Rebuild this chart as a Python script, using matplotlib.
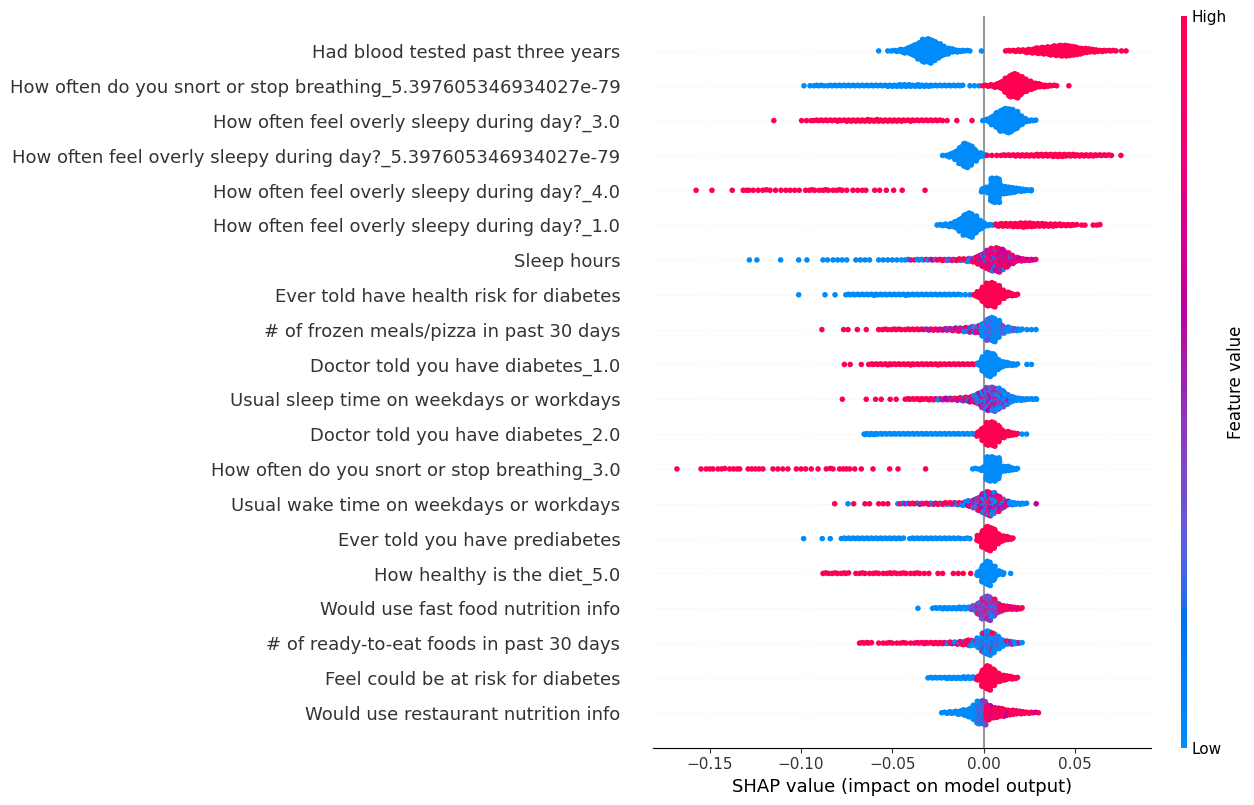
import numpy as np
import matplotlib
matplotlib.use("Agg")
import matplotlib.pyplot as plt
import matplotlib.cm as cm
from matplotlib.colors import LinearSegmentedColormap

# feature values: 0 = low (blue), 1 = high (red); a tuple is a mix used along a run
LO, HI = 0.0, 1.0
STEP = 0.0025   # grid of the runs below (shap value units)

features = [
    "Had blood tested past three years",
    "How often do you snort or stop breathing_5.397605346934027e-79",
    "How often feel overly sleepy during day?_3.0",
    "How often feel overly sleepy during day?_5.397605346934027e-79",
    "How often feel overly sleepy during day?_4.0",
    "How often feel overly sleepy during day?_1.0",
    "Sleep hours",
    "Ever told have health risk for diabetes",
    "# of frozen meals/pizza in past 30 days",
    "Doctor told you have diabetes_1.0",
    "Usual sleep time on weekdays or workdays",
    "Doctor told you have diabetes_2.0",
    "How often do you snort or stop breathing_3.0",
    "Usual wake time on weekdays or workdays",
    "Ever told you have prediabetes",
    "How healthy is the diet_5.0",
    "Would use fast food nutrition info",
    "# of ready-to-eat foods in past 30 days",
    "Feel could be at risk for diabetes",
    "Would use restaurant nutrition info",
]

# (value, start, counts per grid step) or (value, x) for a single dot
blood_tested = [
    (LO, -0.0575, [1, 0, 1]),
    (LO, -0.050, [2, 3, 6, 10, 16, 24, 34, 46, 49, 40, 30, 20, 13, 8, 5, 3, 2, 1]),
    (LO, -0.0012),
    (HI, 0.0125, [2, 2, 3, 4, 5, 7, 9, 12, 14, 16, 18, 20, 22, 22, 20, 17, 13, 10, 8, 6, 4, 3, 2, 2, 1]),
    (HI, 0.0755), (HI, 0.078),
]
snort_5e79 = [
    (LO, -0.0984), (LO, -0.0951),
    (LO, -0.0925, [2, 2, 1, 2, 2, 2, 2, 2, 2, 2, 2, 2, 2, 2, 2, 2, 3,
                   3, 3, 4, 4, 4, 3, 4, 3, 3, 2, 2, 2, 2, 2, 2, 2]),
    (LO, -0.0075, [1, 1, 1]),
    (HI, 0.000, [2, 3, 4, 8, 16, 30, 45, 49, 38, 26, 18, 12, 8, 5, 3, 2, 1]),
    (HI, 0.0467),
]
sleepy_3 = [
    (HI, -0.1149), (HI, -0.0997), (HI, -0.0970), (HI, -0.0945),
    (HI, -0.0925, [2, 2, 2, 2, 2, 3, 2, 3, 3, 3, 3, 3, 4, 3, 4,
                   3, 3, 3, 3, 3, 2, 3, 2, 2, 2, 2, 2, 2, 1, 1]),
    (HI, -0.0147), (HI, -0.0064),
    (LO, 0.000, [2, 6, 18, 32, 44, 49, 46, 36, 20, 8, 3, 2]),
]
sleepy_5e79 = [
    (LO, -0.0225, [1, 3, 8, 18, 34, 49, 40, 24, 10, 4]),
    (HI, 0.0020), (HI, 0.0045), (HI, 0.0072),
    (HI, 0.010, [2, 2, 2, 3, 3, 3, 3, 3, 4, 4, 4, 5, 5, 5, 4, 4, 4, 3, 3, 3, 3, 2, 2, 2, 1]),
    (HI, 0.0752),
]
sleepy_4 = [
    (HI, -0.1575), (HI, -0.1488), (HI, -0.1377), (HI, -0.1317), (HI, -0.1300),
    (HI, -0.1285), (HI, -0.1262), (HI, -0.1235), (HI, -0.1210), (HI, -0.1190),
    (HI, -0.1170), (HI, -0.1140), (HI, -0.1110), (HI, -0.1084), (HI, -0.1060),
    (HI, -0.1035), (HI, -0.1010),
    (HI, -0.0975, [1, 2, 1, 1, 2, 1, 1, 2, 1, 1]),
    (HI, -0.0716), (HI, -0.0690), (HI, -0.0665), (HI, -0.0645), (HI, -0.0597),
    (HI, -0.0570), (HI, -0.0533), (HI, -0.0493), (HI, -0.0446), (HI, -0.0321),
    (LO, 0.000, [8, 12, 49, 49, 16, 14, 12, 9, 6, 4, 2]),
    (LO, 0.0262),
]
sleepy_1 = [
    (LO, -0.025, [2, 3, 4, 7, 14, 26, 42, 49, 36, 20, 8, 3, 1]),
    (HI, 0.0075, [5, 6, 6, 6, 7, 8, 9, 8, 7, 6, 6, 5, 5, 4, 4, 3, 3, 2]),
    (HI, 0.0537), (HI, 0.0555), (HI, 0.0600), (HI, 0.0620), (HI, 0.0637),
]
sleep_hours = [
    (LO, -0.1283), (LO, -0.1242), (LO, -0.1112), (LO, -0.1013), (LO, -0.0968),
    (LO, -0.0880), (LO, -0.0855),
    (LO, -0.0825, [1, 1, 1, 1, 0, 1, 1, 1, 1, 0, 1, 1, 1, 1]),
    ((0.0, 0.0, 1.0, 0.0, 0.5, 0.0), -0.0475, [1, 1, 2, 1, 2, 2, 2, 2]),
    ((1.0, 0.6, 0.0, 1.0, 0.8, 0.3), -0.0275, [2, 2, 3, 3, 3, 3, 4, 5, 7, 10]),
    ((0.85, 1.0, 0.6, 0.75, 0.0, 0.9, 0.5, 1.0, 0.7, 0.8), -0.0025,
     [18, 28, 38, 46, 49, 42, 30, 18, 10]),
    ((0.75, 0.6, 0.85), 0.020, [6, 4, 3, 2]),
]
health_risk = [
    (LO, -0.1013), (LO, -0.0869), (LO, -0.0814),
    (LO, -0.075, [2, 2, 2, 2, 2, 2, 3, 2, 2, 2, 2, 2, 2, 3, 2, 2, 2, 2, 2, 2, 2, 2, 2, 2, 2, 1, 1]),
    (LO, -0.0075),
    (HI, -0.005, [3, 12, 30, 46, 49, 36, 18, 10, 6, 3]),
]
frozen_meals = [
    (HI, -0.0886), (HI, -0.0767), (HI, -0.0743), (HI, -0.0692), (HI, -0.0643),
    (HI, -0.0575, [1, 2, 1, 2, 2, 1, 2, 2, 2, 2]),
    ((1.0, 0.7, 1.0, 0.5), -0.0325, [2, 3, 3, 3, 3, 4]),
    ((1.0, 0.5, 0.0, 0.7, 0.3, 1.0, 0.0), -0.0175, [5, 6, 7, 9, 11, 13, 16]),
    ((0.0, 0.0, 0.0, 0.0, 0.4, 0.0, 0.0, 0.3), 0.000, [28, 44, 49, 36, 16, 10, 7, 5, 3]),
    (LO, 0.0237), (LO, 0.0262), (LO, 0.0287),
]
diabetes_1 = [
    (HI, -0.0763), (HI, -0.0731), (HI, -0.0670),
    (HI, -0.0625, [2, 2, 2, 2, 3, 2, 2, 2, 2, 3, 2, 2, 2, 2, 2, 3, 2, 2, 2, 2, 2, 2, 2, 2]),
    (LO, -0.0025, [6, 30, 49, 42, 22, 12, 8, 5, 3]),
    (LO, 0.0237), (LO, 0.0262),
]
sleep_time = [
    (HI, -0.0774), (HI, -0.0643), (HI, -0.0592), (HI, -0.0561), (HI, -0.0512), (HI, -0.0479),
    ((1.0, 1.0, 0.75, 1.0), -0.0425, [2, 2, 2, 3, 2, 3, 3]),
    ((1.0, 0.8, 0.5, 0.0, 0.9, 0.6), -0.025, [3, 3, 4, 4, 5, 6, 8, 11, 15]),
    ((0.0, 0.45, 0.0, 0.3, 0.6, 0.0, 0.4, 0.8), -0.0025, [24, 36, 46, 49, 44, 34, 22, 12]),
    (LO, 0.0175, [7, 5, 3, 2, 2]),
    (LO, 0.0290),
]
diabetes_2 = [
    (LO, -0.065, [3, 3, 3, 2, 2, 2, 2, 2, 2, 2, 2, 2, 2, 2, 2, 2, 2, 2, 2, 2, 2, 2, 2, 2, 2, 2]),
    (HI, -0.0025, [8, 28, 46, 49, 34, 16, 10, 7, 4]),
    (LO, 0.0210), (LO, 0.0235),
]
snort_3 = [
    (HI, -0.1680), (HI, -0.1548), (HI, -0.1520), (HI, -0.1500), (HI, -0.1483),
    (HI, -0.1455), (HI, -0.1435), (HI, -0.1418), (HI, -0.1391), (HI, -0.1370),
    (HI, -0.1350), (HI, -0.1336), (HI, -0.1290), (HI, -0.1270), (HI, -0.1250),
    (HI, -0.1230), (HI, -0.1209), (HI, -0.1154), (HI, -0.1127), (HI, -0.1100),
    (HI, -0.1072), (HI, -0.1026), (HI, -0.1000), (HI, -0.0975), (HI, -0.0944),
    (HI, -0.0907), (HI, -0.0862), (HI, -0.0840), (HI, -0.0825), (HI, -0.0789),
    (HI, -0.0770), (HI, -0.0752), (HI, -0.0734), (HI, -0.0706), (HI, -0.0670),
    (HI, -0.0606), (HI, -0.0515), (HI, -0.0469), (HI, -0.0318),
    (LO, -0.0060), (LO, -0.0045), (LO, -0.0031),
    (LO, 0.000, [8, 49, 49, 44, 12, 10, 7, 3]),
]
wake_time = [
    (HI, -0.0816), (LO, -0.0743), (HI, -0.0712),
    (HI, -0.065, [1, 1, 0, 1, 1, 1]),
    (LO, -0.0470),
    ((1.0, 0.0, 1.0, 0.5, 1.0, 0.8, 0.0), -0.045, [2, 2, 2, 2, 3, 2, 3, 3, 3, 3, 4, 4, 5, 5]),
    ((0.0, 0.5, 0.0, 0.8, 0.35, 0.0, 1.0, 0.6), -0.010, [8, 12, 18, 28, 40, 49, 44, 32, 20, 10]),
    (LO, 0.015, [6, 4, 3, 2]),
    (0.6, 0.0288),
]
prediabetes = [
    (LO, -0.0986), (LO, -0.0884), (LO, -0.0840),
    (LO, -0.0775, [2, 2, 2, 2, 2, 2, 2, 2, 2, 2, 2, 2, 2, 2, 0, 2, 2, 2, 2, 2, 2, 2, 2, 2, 2, 2, 1, 2, 1]),
    (HI, -0.0025, [12, 36, 49, 40, 22, 12, 8, 4]),
]
diet_5 = [
    (HI, -0.0875, [2, 1, 2, 1, 2, 2]),
    (HI, -0.070, [1, 2, 1, 1, 2, 1, 1, 2, 2, 1, 2, 1, 1, 2, 1, 1, 1, 0, 1, 1]),
    (HI, -0.0166), (HI, -0.0139), (HI, -0.0112), (HI, -0.0071),
    (LO, -0.0025, [10, 36, 49, 30, 10, 6]),
    (LO, 0.0148),
]
fast_food = [
    (LO, -0.0360),
    (LO, -0.0275, [2, 2, 3, 3, 3, 3, 4, 4, 5]),
    (HI, -0.0060), (HI, -0.0035),
    ((0.4, 0.45, 0.35, 0.42, 1.0, 0.38, 0.4, 0.45, 0.0, 0.4), -0.005, [10, 24, 44, 49, 36, 20]),
    ((1.0, 0.85, 1.0, 0.7), 0.010, [12, 8, 6, 5, 3]),
]
ready_to_eat = [
    (HI, -0.0675, [2, 2, 2]),
    (HI, -0.0575, [1, 1, 2, 1, 1, 2, 1, 1]),
    ((1.0, 0.85, 1.0), -0.0375, [2, 2, 3, 2, 3, 3, 3]),
    ((1.0, 0.6, 0.0, 1.0, 0.8), -0.020, [3, 4, 5, 6, 8, 12]),
    ((0.0, 0.0, 0.0, 0.3, 0.0, 0.0, 1.0), -0.005, [10, 20, 40, 49, 40, 26, 14]),
    ((0.0, 0.5, 1.0, 0.0), 0.0125, [8, 6, 4, 2]),
]
risk_diabetes = [
    (LO, -0.030, [2, 2, 2, 2, 3, 3, 3, 3, 4, 4, 5]),
    (HI, -0.0025, [10, 36, 49, 34, 18, 12, 9, 6, 3]),
]
restaurant = [
    (LO, -0.0225, [2, 3, 4, 6, 8, 12, 18, 30]),
    ((0.0, 0.4, 0.0, 0.45), -0.0025, [46, 49]),
    ((1.0, 0.8, 1.0, 1.0, 0.6), 0.0025, [30, 22, 20, 16, 12, 10, 8, 6, 4, 3, 2, 1]),
]

rows = [blood_tested, snort_5e79, sleepy_3, sleepy_5e79, sleepy_4, sleepy_1,
        sleep_hours, health_risk, frozen_meals, diabetes_1, sleep_time, diabetes_2,
        snort_3, wake_time, prediabetes, diet_5, fast_food, ready_to_eat,
        risk_diabetes, restaurant]

GOLD = 0.6180339887


def shap_red_blue():
    # shap's perceptual blue->red map, built in Lch space
    n = 100
    ls = np.concatenate([np.linspace(54., 40., n // 2), np.linspace(40., 54., n // 2)])
    cs = np.linspace(70., 90., n)
    hs = np.linspace(4.6588, 0.35470565 + 2 * np.pi, n)
    a = cs * np.cos(hs)
    b = cs * np.sin(hs)
    fy = (ls + 16) / 116
    fx = fy + a / 500
    fz = fy - b / 200

    def finv(t):
        return np.where(t > 0.2068966, t ** 3, (t - 16 / 116) / 7.787)

    xyz = np.stack([0.95047 * finv(fx), finv(fy), 1.08883 * finv(fz)], axis=1)
    m = np.array([[3.24048134, -1.53715152, -0.49853633],
                  [-0.96925495, 1.87599, 0.04155593],
                  [0.05564664, -0.20404134, 1.05731107]])
    rgb = xyz @ m.T
    rgb = np.where(rgb > 0.0031308,
                   1.055 * np.power(np.clip(rgb, 1e-9, None), 1 / 2.4) - 0.055,
                   12.92 * rgb)
    return LinearSegmentedColormap.from_list("red_blue", np.clip(rgb, 0, 1))


def row_points(items):
    xs, cs, ranks, quant = [], [], [], []
    for it in items:
        if len(it) == 2:
            xs.append(it[1])
            cs.append(it[0])
            ranks.append(0)
            quant.append(int(round(it[1] / STEP)))
            continue
        col, start, counts = it
        cyc = col if isinstance(col, tuple) else (col,)
        q0 = int(round(start / STEP))
        k = 0
        for j, n in enumerate(counts):
            for r in range(n):
                # spread the points of one grid step across its width
                off = ((r + 0.5) * GOLD) % 1.0 - 0.5 if n > 1 else 0.0
                xs.append(start + (j + off) * STEP)
                cs.append(cyc[int(((k + 0.5) * GOLD) % 1.0 * len(cyc))])
                ranks.append(r)
                quant.append(q0 + j)
                k += 1
    xs = np.array(xs)
    cs = np.array(cs)
    quant = np.array(quant)
    # beeswarm stacking like shap's summary plot
    order = np.lexsort((np.array(ranks), quant))
    ys = np.zeros(len(xs))
    layer = 0
    last = None
    for i in order:
        if quant[i] != last:
            layer = 0
        ys[i] = np.ceil(layer / 2) * ((layer % 2) * 2 - 1)
        layer += 1
        last = quant[i]
    ys *= 0.9 * (0.4 / np.max(ys + 1))
    return xs, ys, cs


cmap = shap_red_blue()
axis_color = "#333333"
n = len(features)

fig = plt.figure(figsize=(12.54, 8.05), dpi=100)
ax = fig.add_axes([653 / 1254, 57.4 / 805, 497.7 / 1254, 731.5 / 805])

for i, items in enumerate(rows):
    pos = n - 1 - i
    ax.axhline(y=pos, color="#cccccc", lw=0.5, dashes=(1, 5), zorder=-1)
    xs, ys, cs = row_points(items)
    ax.scatter(xs, pos + ys, c=cs, cmap=cmap, vmin=0, vmax=1, s=16,
               linewidth=0, alpha=1, zorder=3, rasterized=True)

ax.axvline(x=0, color="#999999", zorder=-1)

ax.xaxis.set_ticks_position("bottom")
ax.yaxis.set_ticks_position("none")
for side in ["right", "top", "left"]:
    ax.spines[side].set_visible(False)
ax.tick_params(color=axis_color, labelcolor=axis_color)
ax.set_yticks(range(n))
ax.set_yticklabels(features[::-1], fontsize=13)
ax.tick_params("y", length=0, pad=23.5)
ax.tick_params("x", labelsize=11)
ax.set_ylim(-1, n)
ax.set_xlim(-0.1811, 0.0915)
ax.set_xticks([-0.15, -0.10, -0.05, 0.00, 0.05])
ax.set_xlabel("SHAP value (impact on model output)", fontsize=13)

cax = fig.add_axes([1181 / 1254, 57.4 / 805, 6 / 1254, 731.5 / 805])
m = cm.ScalarMappable(cmap=cmap)
m.set_array([0, 1])
cb = fig.colorbar(m, cax=cax, ticks=[0, 1])
cb.set_ticklabels(["Low", "High"])
cb.set_label("Feature value", size=12, labelpad=0)
cb.ax.tick_params(labelsize=11, length=0)
cb.outline.set_visible(False)

fig.savefig("out.png", dpi=100)
